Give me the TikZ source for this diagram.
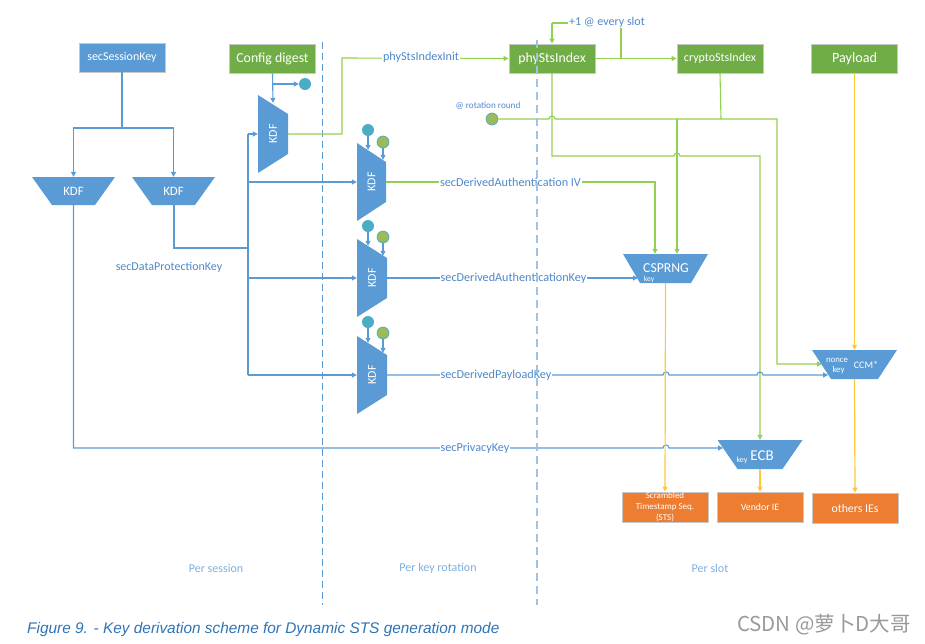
\documentclass[tikz,border=0pt]{standalone}
\usepackage{fontspec}
\setmainfont{Carlito}
\newfontfamily\capfont{Liberation Sans}
\newfontfamily\cjkfont{Noto Sans CJK SC}
\usetikzlibrary{arrows.meta,calc}
\definecolor{cblue}{HTML}{5B9BD5}
\definecolor{cgreen}{HTML}{70AD47}
\definecolor{lgreen}{HTML}{92D050}
\definecolor{cyel}{HTML}{FFC83A}
\definecolor{corange}{HTML}{ED7D31}
\definecolor{cteal}{HTML}{4BACC6}
\definecolor{colive}{HTML}{9BBB59}
\definecolor{ctext}{HTML}{4F88CB}
\definecolor{cdash}{HTML}{9DC3E6}
\definecolor{ccap}{HTML}{2E74B5}
\newcommand\fsz[1]{\fontsize{#1}{#1}\selectfont}
\tikzset{
  box/.style={draw=black!22, line width=0.8pt, text=white, minimum width=86pt, minimum height=29pt, inner sep=0pt},
  bbox/.style={box, fill=cblue},
  gbox/.style={box, fill=cgreen},
  obox/.style={box, fill=corange, minimum height=30pt},
  trapdown/.style 2 args={minimum width=#1pt, minimum height=29pt, inner sep=0pt, text=white,
    path picture={\fill[cblue] (path picture bounding box.north west) -- (path picture bounding box.north east)
      -- ([xshift=-#2pt]path picture bounding box.south east) -- ([xshift=#2pt]path picture bounding box.south west) -- cycle;}},
  trapside/.style={minimum width=30pt, minimum height=78pt, inner sep=0pt, text=white, font=\fsz{12},
    path picture={\fill[cblue] (path picture bounding box.north west) -- ([yshift=-19pt]path picture bounding box.north east)
      -- ([yshift=19pt]path picture bounding box.south east) -- (path picture bounding box.south west) -- cycle;}},
  tcirc/.style={circle, fill=cteal, minimum size=12pt, inner sep=0pt},
  gcirc/.style={circle, fill=colive, draw=cteal, line width=0.7pt, minimum size=12pt, inner sep=0pt},
  bl/.style={draw=cblue, line width=1.1pt},
  gl/.style={draw=lgreen, line width=1.1pt},
  yl/.style={draw=cyel, line width=1.2pt},
  lbl/.style={text=ctext, font=\fsz{12.2}, fill=white, inner sep=1pt},
  small/.style={text=white, inner sep=0pt},
  phase/.style={text=cblue!80!white, font=\fsz{12}},
}
\begin{document}
\begin{tikzpicture}[x=1pt,y=-1pt, >={Triangle[length=5pt,width=5pt]}]
\useasboundingbox (0,0) rectangle (925,643);

% dashed separator 1
\draw[cblue, line width=0.9pt, dash pattern=on 7pt off 4pt] (322,42) -- (322,605);

% boxes
\node[bbox, font=\fsz{12}] (ssk) at (122,57.5) {secSessionKey};
\node[gbox, font=\fsz{13.8}] (cfg) at (272.5,58.5) {Config digest};
\node[gbox, font=\fsz{13.8}] (phy) at (552,58.5) {phyStsIndex};
\node[gbox, font=\fsz{12}] (cry) at (720,58.5) {cryptoStsIndex};
\node[gbox, font=\fsz{14.2}] (pay) at (854.5,58.5) {Payload};
\node[obox, font=\fontsize{9}{11}\selectfont, align=center] (sts) at (665,507) {Scrambled\\Timestamp Seq.\\(STS)};
\node[obox, font=\fsz{9.8}] (ven) at (760,507) {Vendor IE};
\node[obox, font=\fsz{11.8}] (oth) at (855,508) {others IEs};

% trapezoids
\node[trapdown={83}{20}, minimum height=28pt, font=\fsz{12.8}] (kdfL) at (73.5,191) {KDF};
\node[trapdown={83}{20}, minimum height=28pt, font=\fsz{12.8}] (kdfR) at (173.5,191) {KDF};
\node[trapside] (kdfC) at (273,134) {\rotatebox{90}{KDF}};
\node[trapside, minimum width=29pt] (kdf1) at (371.5,182) {\rotatebox{90}{KDF}};
\node[trapside] (kdf2) at (372,278) {\rotatebox{90}{KDF}};
\node[trapside] (kdf3) at (372,375) {\rotatebox{90}{KDF}};
\node[trapdown={85}{17}] (csprng) at (665.5,268.5) {};
\node[small, font=\fsz{13.7}] (csprngT) at (666,268) {CSPRNG};
\node[small, font=\fsz{7.5}] (csprngK) at (649,279.5) {key};
\node[trapdown={85}{19}] (ccm) at (854.5,364.5) {};
\node[small, font=\fsz{8.8}] (ccmN) at (837,360.5) {nonce};
\node[small, font=\fsz{8.8}] (ccmK) at (838.5,370.5) {key};
\node[small, font=\fsz{10}] (ccmT) at (866,365) {CCM*};
\node[trapdown={85}{20}] (ecb) at (760,454.5) {};
\node[small, font=\fsz{8}] (ecbK) at (742,460) {key};
\node[small, font=\fsz{15}] (ecbT) at (762,455.5) {ECB};

% circles
\node[tcirc] (tc0) at (305,84) {};
\node[tcirc] (tc1) at (368,130) {};
\node[gcirc] (gc1) at (383,142) {};
\node[tcirc] (tc2) at (368,226) {};
\node[gcirc] (gc2) at (383,237) {};
\node[tcirc] (tc3) at (368,322) {};
\node[gcirc] (gc3) at (383,333) {};
\node[gcirc] (gr) at (492,119) {};
\node[text=ctext, font=\fsz{9.2}] (grL) at (488,106) {@ rotation round};

% free ends
\coordinate (sj) at (122,128);
\coordinate (ecbkey) at (723,448);
\coordinate (ccmkey) at (828,375);
\coordinate (ccmnonce) at (822,364);
\coordinate (cskey) at (638,278);

% session part
\draw[bl] (ssk.south) -- (sj);
\draw[bl,->] (sj) -| (kdfL.north);
\draw[bl,->] (sj) -| (kdfR.north);
\draw[draw=cblue, line width=2pt] (kdfR.south) |- (248,248);
\draw[bl] (248,134) -- (248,375);
\draw[bl,->] (248,134) -- (kdfC.west);
\draw[bl,->] (248,182) -- (kdf1.west);
\draw[bl,->] (248,278) -- (kdf2.west);
\draw[bl,->] (248,375) -- (kdf3.west);
\node[text=ctext, font=\fsz{12}] (dpk) at (169,267) {secDataProtectionKey};

% config digest
\draw[bl,->] (cfg.south) -- ($(kdfC.north)+(0,8)$);
\draw[bl,->] (273,84) -- (tc0.west);
\draw[gl,->] (kdfC.east) -- (342,134) -- (342,58) -- (phy.west);
\node[lbl] (pii) at (421,57) {phyStsIndexInit};

% circles into KDFs
\draw[bl,->] (tc1.south) -- ($(kdf1.north)+(-3.5,7)$);
\draw[bl,->] (gc1.south) -- ($(kdf1.north)+(11.5,17)$);
\draw[bl,->] (tc2.south) -- ($(kdf2.north)+(-4,7)$);
\draw[bl,->] (gc2.south) -- ($(kdf2.north)+(11,17)$);
\draw[bl,->] (tc3.south) -- ($(kdf3.north)+(-4,7)$);
\draw[bl,->] (gc3.south) -- ($(kdf3.north)+(11,17)$);

% index loop
\draw[gl,->] (phy.east) -- (cry.west);
\draw[gl] (621,58) -- (621,23) -- (552,23);
\draw[gl,->] (552,23) -- (phy.north);
\node[lbl, font=\fsz{12}] (every) at (607,22) {+1 @ every slot};

% green feeds
\draw[gl,->] (gr.east) -- (549,119) arc (180:360:3) -- (777,119) -- (777,364) -- (ccmnonce);
\draw[gl] (cry.south) -- (721,119);
\draw[gl,->] (677,119) -- (677,119 |- csprng.north);
\draw[gl,->] (phy.south) -- (552,156) -- (674,156) arc (180:360:3) -- (760,156) -- (ecb.north);

% derived keys
\draw[gl,->] (kdf1.east) -- (655,182) -- (655,182 |- csprng.north);
\node[lbl] (ivL) at (510.5,182) {secDerivedAuthentication IV};
\draw[bl,->] (kdf2.east) -- (cskey);
\node[lbl] (akL) at (513.5,278) {secDerivedAuthenticationKey};
\draw[bl,->] (kdf3.east) -- (663,375) arc (180:360:3) -- (757,375) arc (180:360:3) -- (ccmkey);
\node[lbl] (pkL) at (496,375) {secDerivedPayloadKey};
\draw[bl,->] (kdfL.south) |- (663,448) arc (180:360:3) -- (ecbkey);
\node[lbl] (prL) at (475,448) {secPrivacyKey};

% yellow outputs
\draw[yl,->] (csprng.south) -- (sts.north);
\draw[yl,->] (pay.south) -- (ccm.north);
\draw[yl,->] (ccm.south) -- (oth.north);
\draw[yl,->] (ecb.south) -- (ven.north);

% dashed separator 2 (on top)
\draw[cdash, line width=1.6pt, dash pattern=on 8pt off 5pt] (537,40) -- (537,605);

% phases
\node[phase] (ps) at (216,568) {Per session};
\node[phase] (pk) at (438,568) {Per key rotation};
\node[phase] (pl) at (710,568) {Per slot};

% caption
\node[anchor=west, inner sep=0pt, font=\capfont\itshape\fsz{15.4}, text=ccap] (cap) at (27,630) {Figure 9. - Key derivation scheme for Dynamic STS generation mode};
\node[anchor=east, inner sep=0pt, font=\cjkfont\fsz{20.5}, text=black!40] (wm) at (911,625) {CSDN @萝卜D大哥};
\end{tikzpicture}
\end{document}
